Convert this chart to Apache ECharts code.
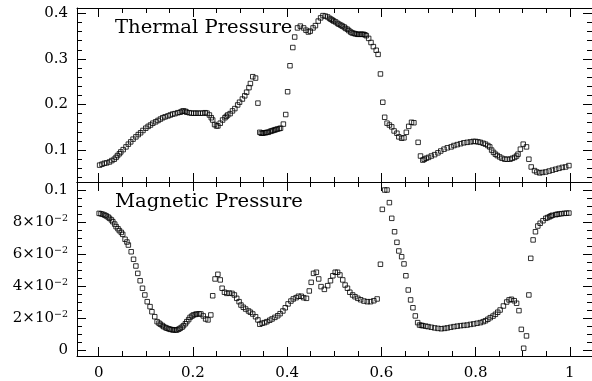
<!DOCTYPE html>
<html><head><meta charset="utf-8">
<script src="https://cdn.jsdelivr.net/npm/echarts@6/dist/echarts.min.js"></script>
<style>html,body{margin:0;padding:0;background:#fff}#c{width:592px;height:381px}</style>
</head><body><div id="c"></div>
<script>
const thermalX = [0.002,0.007,0.012,0.017,0.023,0.028,0.033,0.037,0.040,0.044,0.047,0.052,0.058,0.063,0.068,0.073,0.079,0.084,0.089,0.094,0.100,0.105,0.110,0.115,0.121,0.126,0.131,0.136,0.141,0.147,0.152,0.157,0.162,0.168,0.173,0.177,0.180,0.184,0.187,0.192,0.197,0.202,0.206,0.211,0.216,0.221,0.226,0.230,0.235,0.239,0.242,0.246,0.250,0.253,0.258,0.263,0.268,0.271,0.274,0.279,0.284,0.289,0.295,0.299,0.305,0.310,0.314,0.319,0.322,0.327,0.333,0.338,0.342,0.345,0.348,0.351,0.354,0.357,0.360,0.364,0.367,0.370,0.373,0.376,0.379,0.383,0.386,0.392,0.397,0.401,0.406,0.412,0.416,0.422,0.428,0.435,0.440,0.445,0.449,0.455,0.460,0.466,0.471,0.476,0.481,0.486,0.490,0.493,0.496,0.499,0.503,0.507,0.510,0.514,0.517,0.521,0.524,0.528,0.531,0.535,0.538,0.542,0.545,0.549,0.552,0.556,0.559,0.562,0.565,0.568,0.573,0.578,0.583,0.589,0.593,0.598,0.603,0.607,0.612,0.617,0.622,0.627,0.633,0.637,0.643,0.648,0.653,0.658,0.664,0.669,0.678,0.683,0.688,0.691,0.695,0.700,0.706,0.713,0.720,0.726,0.733,0.740,0.748,0.754,0.761,0.768,0.775,0.782,0.789,0.795,0.800,0.805,0.810,0.816,0.821,0.826,0.830,0.834,0.838,0.842,0.846,0.851,0.856,0.862,0.867,0.873,0.878,0.883,0.887,0.890,0.895,0.901,0.908,0.913,0.918,0.925,0.930,0.936,0.942,0.949,0.956,0.963,0.970,0.977,0.984,0.991,0.998];
const thermalY = [0.067,0.069,0.071,0.072,0.074,0.077,0.080,0.084,0.088,0.092,0.096,0.101,0.107,0.113,0.118,0.124,0.129,0.134,0.138,0.143,0.148,0.152,0.155,0.159,0.162,0.165,0.168,0.171,0.173,0.175,0.177,0.179,0.180,0.182,0.183,0.185,0.186,0.185,0.183,0.182,0.181,0.181,0.181,0.181,0.181,0.181,0.182,0.181,0.177,0.171,0.166,0.156,0.153,0.153,0.159,0.166,0.171,0.174,0.177,0.180,0.186,0.191,0.199,0.205,0.212,0.219,0.227,0.237,0.246,0.261,0.258,0.203,0.139,0.137,0.137,0.138,0.138,0.139,0.139,0.141,0.142,0.143,0.144,0.145,0.146,0.147,0.148,0.157,0.178,0.228,0.285,0.325,0.348,0.368,0.372,0.368,0.363,0.359,0.361,0.368,0.373,0.383,0.390,0.395,0.394,0.392,0.389,0.387,0.385,0.383,0.381,0.378,0.376,0.374,0.372,0.370,0.367,0.365,0.362,0.359,0.357,0.356,0.355,0.354,0.354,0.354,0.354,0.354,0.353,0.351,0.345,0.336,0.327,0.319,0.310,0.267,0.205,0.172,0.159,0.155,0.151,0.142,0.137,0.129,0.126,0.127,0.139,0.152,0.161,0.160,0.117,0.087,0.078,0.080,0.082,0.084,0.087,0.090,0.094,0.098,0.102,0.105,0.107,0.110,0.112,0.114,0.116,0.117,0.118,0.119,0.119,0.118,0.117,0.115,0.113,0.110,0.107,0.100,0.095,0.091,0.088,0.085,0.082,0.080,0.080,0.080,0.082,0.084,0.087,0.091,0.102,0.113,0.107,0.080,0.063,0.055,0.052,0.050,0.051,0.052,0.054,0.056,0.058,0.060,0.062,0.063,0.066];
const magneticX = [0.001,0.005,0.009,0.013,0.016,0.020,0.023,0.027,0.030,0.034,0.037,0.041,0.044,0.048,0.051,0.056,0.060,0.063,0.069,0.074,0.079,0.083,0.088,0.093,0.098,0.103,0.109,0.113,0.119,0.124,0.128,0.131,0.135,0.138,0.142,0.145,0.149,0.152,0.156,0.159,0.163,0.166,0.170,0.173,0.177,0.180,0.184,0.187,0.191,0.194,0.198,0.201,0.205,0.208,0.213,0.217,0.222,0.227,0.232,0.238,0.242,0.247,0.253,0.258,0.262,0.267,0.272,0.277,0.283,0.288,0.293,0.298,0.302,0.307,0.312,0.318,0.322,0.327,0.333,0.338,0.342,0.347,0.352,0.357,0.363,0.368,0.374,0.380,0.385,0.391,0.396,0.402,0.408,0.413,0.419,0.424,0.430,0.435,0.441,0.447,0.451,0.456,0.462,0.467,0.472,0.479,0.486,0.492,0.497,0.502,0.507,0.512,0.518,0.523,0.528,0.533,0.539,0.544,0.550,0.556,0.563,0.570,0.577,0.584,0.591,0.598,0.602,0.607,0.612,0.617,0.622,0.628,0.633,0.637,0.643,0.648,0.652,0.657,0.662,0.667,0.672,0.677,0.681,0.685,0.688,0.694,0.699,0.706,0.713,0.720,0.727,0.734,0.740,0.747,0.754,0.761,0.768,0.775,0.782,0.789,0.796,0.803,0.810,0.816,0.821,0.826,0.831,0.837,0.842,0.847,0.852,0.859,0.866,0.871,0.876,0.882,0.887,0.892,0.897,0.902,0.908,0.913,0.917,0.922,0.927,0.932,0.937,0.943,0.949,0.953,0.957,0.960,0.963,0.970,0.973,0.977,0.982,0.988,0.993,0.998];
const magneticY = [0.0854,0.0851,0.0848,0.0843,0.0838,0.0831,0.0823,0.0813,0.0802,0.0787,0.0771,0.0758,0.0746,0.0735,0.0723,0.0692,0.0675,0.0656,0.0614,0.0567,0.0525,0.0479,0.0433,0.0386,0.0344,0.0302,0.0271,0.0239,0.0208,0.0177,0.0168,0.0161,0.0153,0.0146,0.0140,0.0136,0.0132,0.0129,0.0127,0.0125,0.0125,0.0125,0.0130,0.0136,0.0143,0.0152,0.0164,0.0177,0.0190,0.0204,0.0212,0.0219,0.0222,0.0225,0.0226,0.0225,0.0213,0.0194,0.0188,0.0219,0.0339,0.0444,0.0473,0.0438,0.0386,0.0361,0.0354,0.0356,0.0354,0.0344,0.0323,0.0302,0.0281,0.0267,0.0256,0.0244,0.0236,0.0225,0.0208,0.0188,0.0161,0.0167,0.0171,0.0177,0.0186,0.0194,0.0204,0.0214,0.0227,0.0244,0.0264,0.0288,0.0306,0.0319,0.0327,0.0336,0.0336,0.0327,0.0323,0.0369,0.0423,0.0479,0.0486,0.0444,0.0396,0.0379,0.0402,0.0433,0.0464,0.0486,0.0486,0.0469,0.0438,0.0406,0.0386,0.0361,0.0344,0.0333,0.0323,0.0314,0.0306,0.0302,0.0302,0.0308,0.0319,0.0536,0.0879,0.1000,0.1000,0.0921,0.0823,0.0739,0.0673,0.0619,0.0583,0.0538,0.0464,0.0375,0.0313,0.0264,0.0213,0.0171,0.0156,0.0154,0.0152,0.0149,0.0146,0.0142,0.0138,0.0135,0.0133,0.0135,0.0138,0.0142,0.0146,0.0149,0.0152,0.0154,0.0156,0.0160,0.0163,0.0167,0.0171,0.0177,0.0183,0.0192,0.0202,0.0212,0.0223,0.0236,0.0250,0.0275,0.0300,0.0313,0.0317,0.0308,0.0292,0.0246,0.0129,0.0011,0.0088,0.0344,0.0573,0.0688,0.0739,0.0775,0.0792,0.0808,0.0823,0.0828,0.0833,0.0838,0.0842,0.0846,0.0848,0.0850,0.0852,0.0854,0.0855,0.0856];

const xMajorTicks = [0, 0.2, 0.4, 0.6, 0.8, 1];
const xTickLabels = ['0', '0.2', '0.4', '0.6', '0.8', '1'];
const xMinorTicks = [0.05,0.1,0.15,0.25,0.3,0.35,0.45,0.5,0.55,0.65,0.7,0.75,0.85,0.9,0.95];
const thermalMajorTicks = [0.1, 0.2, 0.3, 0.4];
const thermalTickLabels = ['0.1', '0.2', '0.3', '0.4'];
const thermalMinorTicks = [0.04,0.06,0.08,0.12,0.14,0.16,0.18,0.22,0.24,0.26,0.28,0.32,0.34,0.36,0.38];
const magneticMajorTicks = [0, 0.02, 0.04, 0.06, 0.08, 0.1];
const magneticTickLabels = ['0', '2×10{s|−2}', '4×10{s|−2}', '6×10{s|−2}', '8×10{s|−2}', '0.1'];
const magneticMinorTicks = [0.005,0.01,0.015,0.025,0.03,0.035,0.045,0.05,0.055,0.065,0.07,0.075,0.085,0.09,0.095];
const panelTitles = ['Thermal Pressure', 'Magnetic Pressure'];

const FONT = 'DejaVu Serif';
const X_RANGE = [-0.046, 1.047];
const Y_RANGES = [[0.030, 0.4117], [-0.00375, 0.105]];
const GRID_LEFT = 77, GRID_W = 523, GRID_TOPS = [8, 182], GRID_H = 174;

function labelFor(v, majors, labels) {
  let best = 0, d = Infinity;
  majors.forEach((m, i) => { const dd = Math.abs(m - v); if (dd < d) { d = dd; best = i; } });
  const s = labels[best];
  return s.indexOf('{') >= 0 ? s.replace(/^([^{]*)/, '{b|$1}') : '{b|' + s + '}';
}
const rich = {
  b: { fontFamily: FONT, fontSize: 15, color: '#000', lineHeight: 17 },
  s: { fontFamily: FONT, fontSize: 9.5, color: '#000', verticalAlign: 'top', lineHeight: 17, padding: [0, 0, 6, 0] }
};

function makeAxes(kind, grid, positions, range, majors, minors, labels) {
  const out = [];
  positions.forEach(pos => {
    const showLabel = !!labels && (pos === 'left' || pos === 'bottom');
    out.push({
      type: 'value', gridIndex: grid, position: pos, min: range[0], max: range[1],
      axisLine: { show: true, onZero: false, lineStyle: { color: '#000', width: 1 } },
      axisTick: { show: true, inside: true, length: 9, customValues: majors, lineStyle: { color: '#000', width: 1 } },
      axisLabel: showLabel ? {
        show: true, customValues: majors, margin: 9,
        formatter: v => labelFor(v, majors, labels), rich: rich, color: '#000'
      } : { show: false },
      splitLine: { show: false }, minorTick: { show: false }
    });
    out.push({
      type: 'value', gridIndex: grid, position: pos, min: range[0], max: range[1],
      axisLine: { show: false, onZero: false },
      axisTick: { show: true, inside: true, length: 5, customValues: minors, lineStyle: { color: '#000', width: 1 } },
      axisLabel: { show: false }, splitLine: { show: false }
    });
  });
  return out;
}

const xAxis = [], yAxis = [], grid = [], series = [];
const xIdx = [], yIdx = [];
[0, 1].forEach(g => {
  grid.push({ left: GRID_LEFT, top: GRID_TOPS[g], width: GRID_W, height: GRID_H, containLabel: false });
  xIdx.push(xAxis.length);
  xAxis.push(...makeAxes('x', g, ['bottom', 'top'], X_RANGE, xMajorTicks, xMinorTicks, g === 1 ? xTickLabels : null));
  yIdx.push(yAxis.length);
  if (g === 0) yAxis.push(...makeAxes('y', g, ['left', 'right'], Y_RANGES[0], thermalMajorTicks, thermalMinorTicks, thermalTickLabels));
  else yAxis.push(...makeAxes('y', g, ['left', 'right'], Y_RANGES[1], magneticMajorTicks, magneticMinorTicks, magneticTickLabels));
});

const sets = [[thermalX, thermalY], [magneticX, magneticY]];
sets.forEach((s, g) => {
  series.push({
    type: 'scatter', xAxisIndex: xIdx[g], yAxisIndex: yIdx[g],
    data: s[0].map((x, i) => [x, s[1][i]]),
    symbol: 'rect', symbolSize: 4.5,
    itemStyle: { color: 'rgba(0,0,0,0)', borderColor: '#000', borderWidth: 1 },
    silent: true
  });
});

const chart = echarts.init(document.getElementById('c'), null, { renderer: 'canvas' });
chart.setOption({
  animation: false,
  backgroundColor: '#fff',
  grid, xAxis, yAxis, series,
  graphic: panelTitles.map((t, g) => ({
    type: 'text', left: 115, top: GRID_TOPS[g] + 11, scaleX: 1.09,
    style: { text: t, fill: '#000', font: '18px "' + FONT + '"' }
  }))
});
</script></body></html>
